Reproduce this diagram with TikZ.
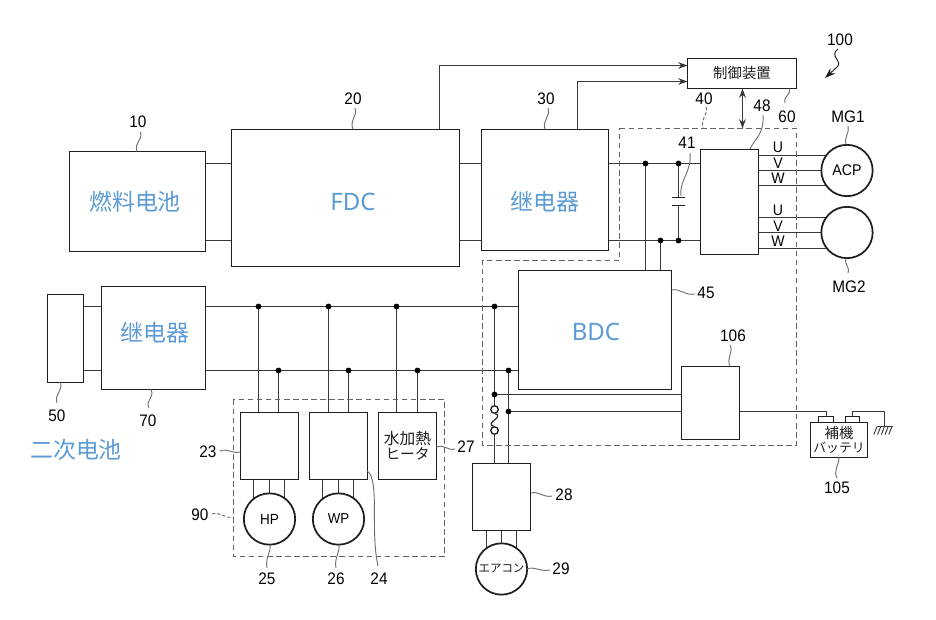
\documentclass[tikz,border=0pt]{standalone}
\usepackage{fontspec}
\setmainfont[FakeStretch=.92]{Liberation Sans}
\newfontfamily\cnfont{Noto Sans CJK SC}
\newfontfamily\jpfont{Noto Sans CJK JP}
\newfontfamily\latfont{Noto Sans}
\usetikzlibrary{arrows.meta,backgrounds}
\definecolor{ink}{HTML}{1E1E1E}
\definecolor{wirec}{HTML}{383838}
\definecolor{leadc}{HTML}{6E6E6E}
\definecolor{titleblue}{HTML}{5B9BD5}
% Rectangular block given by its two corners, in drawing units
\newcommand{\rectblock}[6]{%
  \pgfmathsetmacro\bw{(#4-#2)*.75}%
  \pgfmathsetmacro\bh{(#5-#3)*.75}%
  \pgfmathsetmacro\bx{(#2+#4)/2}%
  \pgfmathsetmacro\by{(#3+#5)/2}%
  \node[box,minimum width=\bw pt,minimum height=\bh pt] (#1) at (\bx,\by) {#6};%
}
\tikzset{
  box/.style={draw=ink,line width=1.4pt,inner sep=0pt,outer sep=0pt,align=center},
  wire/.style={draw=wirec,line width=1pt},
  sig/.style={wire,-{Stealth[length=7pt,width=5pt]}},
  dot/.style={circle,fill=black,inner sep=0pt,minimum size=4.4pt,outer sep=0pt},
  motor/.style={circle,draw=ink,line width=1.3pt,fill=white,minimum size=38.5pt,inner sep=0pt,outer sep=0pt},
  ring/.style={circle,draw=ink,line width=1pt,fill=white,minimum size=5.6pt,inner sep=0pt,outer sep=0pt},
  tag/.style={font=\fontsize{12.5}{14}\selectfont,text=black,inner sep=0pt,outer sep=0pt},
  phase/.style={font=\fontsize{11.5}{12}\selectfont,text=black,inner sep=0pt},
  leader/.style={draw=leadc,line width=.7pt},
  zone/.style={draw=leadc!90!black,line width=.95pt,dash pattern=on 4.2pt off 2.6pt},
  title/.style={font=\cnfont\fontsize{17.2}{20}\selectfont,text=titleblue,inner sep=0pt},
  lattitle/.style={font=\latfont\fontsize{18}{20}\selectfont,text=titleblue,inner sep=0pt},
  jp/.style={font=\jpfont\fontsize{#1}{#1}\selectfont,text=ink,inner sep=0pt}
}
\begin{document}
\begin{tikzpicture}[x=.75pt,y=-.75pt]
\useasboundingbox (0,0) rectangle (936,620);

% Main blocks
\rectblock{b10}{69.5}{151.5}{205.5}{251.5}{}
\rectblock{b20}{231.5}{129.5}{459.5}{266.5}{}
\rectblock{b30}{481.5}{129.5}{608.5}{250.5}{}
\rectblock{b60}{687.5}{58.5}{796.5}{88.5}{\jpfont\fontsize{10.8}{12}\selectfont\textcolor{ink}{制御装置}}
\rectblock{b48}{700.5}{149.5}{758.5}{254.5}{}
\rectblock{bdc}{518.5}{270.5}{671.5}{389.5}{}
\rectblock{b106}{681.5}{366.5}{739.5}{439.5}{}
\rectblock{b50}{47.5}{294.5}{83.5}{382.5}{}
\rectblock{b70}{101.5}{286.5}{205.5}{389.5}{}
\rectblock{b23}{240.5}{412.5}{298.5}{479.5}{}
\rectblock{b24}{309.5}{412.5}{367.5}{479.5}{}
\rectblock{b27}{378.5}{412.5}{436.5}{479.5}{\jpfont\fontsize{11.8}{14}\selectfont\textcolor{ink}{水加熱}\\[-1pt]\jpfont\fontsize{11}{13}\selectfont\textcolor{ink}{ヒータ}}
\rectblock{b28}{472.5}{463.5}{530.5}{530.5}{}
\rectblock{bat}{810.5}{422.5}{867.5}{457.5}{\jpfont\fontsize{10.8}{12}\selectfont\textcolor{ink}{補機}\\[-1.5pt]\jpfont\fontsize{9.6}{11}\selectfont\textcolor{ink}{バッテリ}}
\rectblock{tpos}{818.5}{416.5}{833.5}{422.5}{}
\rectblock{tneg}{845.5}{416.5}{859.5}{422.5}{}

% Block titles
\node[title] (tfc) at (135,202) {燃料电池};
\node[lattitle] (tfdc) at (353,202) {FDC};
\node[title] (trl1) at (545,202) {继电器};
\node[lattitle] (tbdc) at (596,332) {BDC};
\node[title] (trl2) at (155,333) {继电器};
\node[title] (t2) at (76,450) {二次电池};

% Motors
\node[motor,font=\fontsize{11.6}{12}\selectfont] (acp) at (847,170.5) {ACP};
\node[motor] (mg2) at (847,232.5) {};
\node[motor,font=\fontsize{11}{12}\selectfont] (hp) at (269.5,519) {HP};
\node[motor,font=\fontsize{10.8}{12}\selectfont] (wp) at (338.5,519) {WP};
\node[motor,jp=8.6] (ac) at (501.5,569) {エアコン};

% Junction dots
\node[dot] (d1) at (645.5,163.5) {};
\node[dot] (d2) at (678.5,163.5) {};
\node[dot] (d3) at (660.5,240.5) {};
\node[dot] (d4) at (678.5,240.5) {};
\node[dot] (p1) at (258.5,306.5) {};
\node[dot] (p2) at (328.5,306.5) {};
\node[dot] (p3) at (396.5,306.5) {};
\node[dot] (p4) at (494.5,306.5) {};
\node[dot] (n1) at (278.5,370.5) {};
\node[dot] (n2) at (348.5,370.5) {};
\node[dot] (n3) at (417.5,370.5) {};
\node[dot] (n4) at (508.5,370.5) {};
\node[dot] (d5) at (494.5,394.5) {};
\node[dot] (d6) at (508.5,411.5) {};

% Fuse terminals
\node[ring] (f1) at (494.5,409.5) {};
\node[ring] (f2) at (494.5,430.5) {};

% Capacitor plates and free points
\coordinate (capa) at (678.5,197.5);
\coordinate (capb) at (678.5,205.5);
\coordinate (topa) at (439.5,65.5);
\coordinate (topb) at (577.5,81.5);
\coordinate (busa) at (0,306.5);
\coordinate (busb) at (0,370.5);
\coordinate (hva) at (0,163.5);
\coordinate (hvb) at (0,240.5);
\coordinate (gnd) at (884.5,426.5);
\coordinate (batw) at (826.5,411.5);
\coordinate (batn) at (852.5,411.5);
\coordinate (ctla) at (742.5,88.5);
\coordinate (ctlb) at (742.5,128.5);

\begin{scope}[on background layer]
  % High voltage pair
  \draw[wire] (b10.east |- hva) -- (b20.west |- hva);
  \draw[wire] (b10.east |- hvb) -- (b20.west |- hvb);
  \draw[wire] (b20.east |- hva) -- (b30.west |- hva);
  \draw[wire] (b20.east |- hvb) -- (b30.west |- hvb);
  \draw[wire] (b30.east |- hva) -- (d1) -- (d2) -- (b48.west |- hva);
  \draw[wire] (b30.east |- hvb) -- (d3) -- (d4) -- (b48.west |- hvb);
  \draw[wire] (d1) -- (bdc.north -| d1);
  \draw[wire] (d3) -- (bdc.north -| d3);
  % Capacitor
  \draw[wire] (d2) -- (capa);
  \draw[wire] (capb) -- (d4);
  \draw[box] ([xshift=-5.2pt]capa) -- ([xshift=5.2pt]capa);
  \draw[box] ([xshift=-5.2pt]capb) -- ([xshift=5.2pt]capb);
  % Signals towards the controller
  \draw[sig] (b20.north -| topa) |- (b60.west |- topa);
  \draw[sig] (b30.north -| topb) |- (b60.west |- topb);
  \draw[wire,{Stealth[length=7pt,width=5pt]}-{Stealth[length=7pt,width=5pt]}] (ctla) -- (ctlb);
  % Phase lines
  \foreach \yy in {155.5,170.5,185.5} \draw[wire] (758.5,\yy) -- (847,\yy);
  \foreach \yy in {217.5,232.5,248.5} \draw[wire] (758.5,\yy) -- (847,\yy);
  % Low voltage pair
  \draw[wire] (b50.east |- busa) -- (b70.west |- busa);
  \draw[wire] (b50.east |- busb) -- (b70.west |- busb);
  \draw[wire] (b70.east |- busa) -- (p1) -- (p2) -- (p3) -- (p4) -- (bdc.west |- busa);
  \draw[wire] (b70.east |- busb) -- (n1) -- (n2) -- (n3) -- (n4) -- (bdc.west |- busb);
  \draw[wire] (p1) -- (b23.north -| p1);
  \draw[wire] (n1) -- (b23.north -| n1);
  \draw[wire] (p2) -- (b24.north -| p2);
  \draw[wire] (n2) -- (b24.north -| n2);
  \draw[wire] (p3) -- (b27.north -| p3);
  \draw[wire] (n3) -- (b27.north -| n3);
  % Branch through the fuse to the air conditioner inverter
  \draw[wire] (p4) -- (d5) -- (f1);
  \draw[wire] (f2) -- (b28.north -| f2);
  \draw[wire] (n4) -- (d6) -- (b28.north -| d6);
  \draw[wire] (d5) -- (b106.west |- d5);
  \draw[wire] (d6) -- (b106.west |- d6);
  % Auxiliary battery and ground
  \draw[wire] (b106.east |- batw) -- (batw) -- (tpos.north -| batw);
  \draw[wire] (tneg.north -| batn) -- (batn) -| (gnd);
  \draw[wire] ([xshift=-6pt]gnd) -- ([xshift=6pt]gnd);
  \foreach \dx in {-5.6,-2.8,0,2.8,5.6}
    \draw[wire,line width=.7pt] ([xshift=\dx pt]gnd) -- ++(-3.2,8);
  % Motor feeds
  \foreach \xx in {253.5,269.5,284.5} \draw[wire] (\xx,479.5) -- (\xx,519);
  \foreach \xx in {322.5,338.5,353.5} \draw[wire] (\xx,479.5) -- (\xx,519);
  \foreach \xx in {486.5,501.5,516.5} \draw[wire] (\xx,530.5) -- (\xx,569);
\end{scope}
% Fuse element between its two terminals
\draw[wire] (f1.south) .. controls (506,417) and (483,423) .. (f2.north);

% Dashed enclosures
\draw[zone] (619.5,128.5) -- (796.5,128.5) -- (796.5,445.5) -- (482.5,445.5) -- (482.5,260.5) -- (619.5,260.5) -- cycle;
\draw[zone] (233.5,399.5) rectangle (444.5,556.5);

% Phase letters
\node[phase] (u1) at (778,147) {U};
\node[phase] (v1) at (778,163) {V};
\node[phase] (w1) at (778,178) {W};
\node[phase] (u2) at (778,210) {U};
\node[phase] (v2) at (778,226) {V};
\node[phase] (w2) at (778,241) {W};

% Reference numerals
\node[tag] (l10) at (138,122) {10};
\node[tag] (l20) at (353,99) {20};
\node[tag] (l30) at (546,99) {30};
\node[tag] (l100) at (840,40) {100};
\node[tag] (l60) at (787,117) {60};
\node[tag] (l40) at (704,99) {40};
\node[tag] (l48) at (762,106) {48};
\node[tag] (l41) at (687,143) {41};
\node[tag] (lmg1) at (848,117) {MG1};
\node[tag] (lmg2) at (849,287) {MG2};
\node[tag] (l45) at (706,293) {45};
\node[tag] (l106) at (733,336) {106};
\node[tag] (l50) at (57,416) {50};
\node[tag] (l70) at (148,421) {70};
\node[tag] (l23) at (208,452) {23};
\node[tag] (l90) at (200,515) {90};
\node[tag] (l25) at (267,579) {25};
\node[tag] (l26) at (336,579) {26};
\node[tag] (l24) at (379,579) {24};
\node[tag] (l27) at (466,447) {27};
\node[tag] (l28) at (564,495) {28};
\node[tag] (l29) at (561,569) {29};
\node[tag] (l105) at (837,488) {105};

% Leader lines
\coordinate (e10) at (137,151.7);
\coordinate (e20) at (353,129.3);
\coordinate (e30) at (545,129.3);
\coordinate (e60) at (789,88.3);
\coordinate (e48) at (750,149);
\coordinate (e41) at (681,196);
\coordinate (e45) at (671.7,290);
\coordinate (e106) at (730,366);
\coordinate (e50) at (60,382);
\coordinate (e70) at (151,389.3);
\coordinate (e25) at (270,544.6);
\coordinate (e26) at (339,544.6);
\coordinate (e24) at (367.3,471);
\coordinate (e23) at (240,452);
\coordinate (e28) at (530.7,493);
\coordinate (e29) at (526.8,569);
\coordinate (e27) at (436.3,447);
\coordinate (e105) at (839,457.3);
\coordinate (emg1) at (846,144.5);
\coordinate (emg2) at (846,258.2);
\coordinate (e40) at (703,128.7);
\coordinate (e90) at (233.3,517);
\coordinate (e100) at (825,78);
\draw[leader] (140.5,132) .. controls (143,140) and (134,142) .. (e10);
\draw[leader] (355,108) .. controls (358,116) and (349,120) .. (e20);
\draw[leader] (548,108) .. controls (551,116) and (542,120) .. (e30);
\draw[leader] (785,103) .. controls (782,97) and (792,95) .. (e60);
\draw[leader] (763,115) .. controls (764,135) and (755,138) .. (e48);
\draw[leader] (690,153) .. controls (692,172) and (679,180) .. (e41);
\draw[leader] (e45) .. controls (680,288) and (685,296) .. (695,294);
\draw[leader] (730,345) .. controls (734,352) and (726,358) .. (e106);
\draw[leader] (e50) .. controls (64,390) and (54,394) .. (57,403);
\draw[leader] (e70) .. controls (155,398) and (145,400) .. (149,408);
\draw[leader] (220,451) .. controls (228,448) and (232,454) .. (e23);
\draw[leader] (e25) .. controls (271,553) and (265,558) .. (267,568);
\draw[leader] (e26) .. controls (340,553) and (334,558) .. (336,568);
\draw[leader] (e24) .. controls (380,480) and (370,530) .. (378,566);
\draw[leader] (e27) .. controls (445,444) and (447,451) .. (455,449);
\draw[leader] (e28) .. controls (540,491) and (543,498) .. (552,496);
\draw[leader] (e29) .. controls (535,566) and (540,572) .. (550,570);
\draw[leader] (e105) .. controls (839,466) and (833,470) .. (837,478);
\draw[leader] (848,126) .. controls (850,133) and (844,136) .. (emg1);
\draw[leader] (emg2) .. controls (844,265) and (850,266) .. (848,273);
\draw[leader,dash pattern=on 2.5pt off 1.5pt] (706,107) .. controls (709,114) and (700,118) .. (e40);
\draw[leader,dash pattern=on 2.5pt off 1.5pt] (212,514) .. controls (220,511) and (224,519) .. (e90);
\draw[leader,draw=ink,line width=.7pt,-{Stealth[length=8pt,width=5.5pt]}] (838,49) .. controls (828,56) and (845,62) .. (836,68) -- (e100);
\end{tikzpicture}
\end{document}
